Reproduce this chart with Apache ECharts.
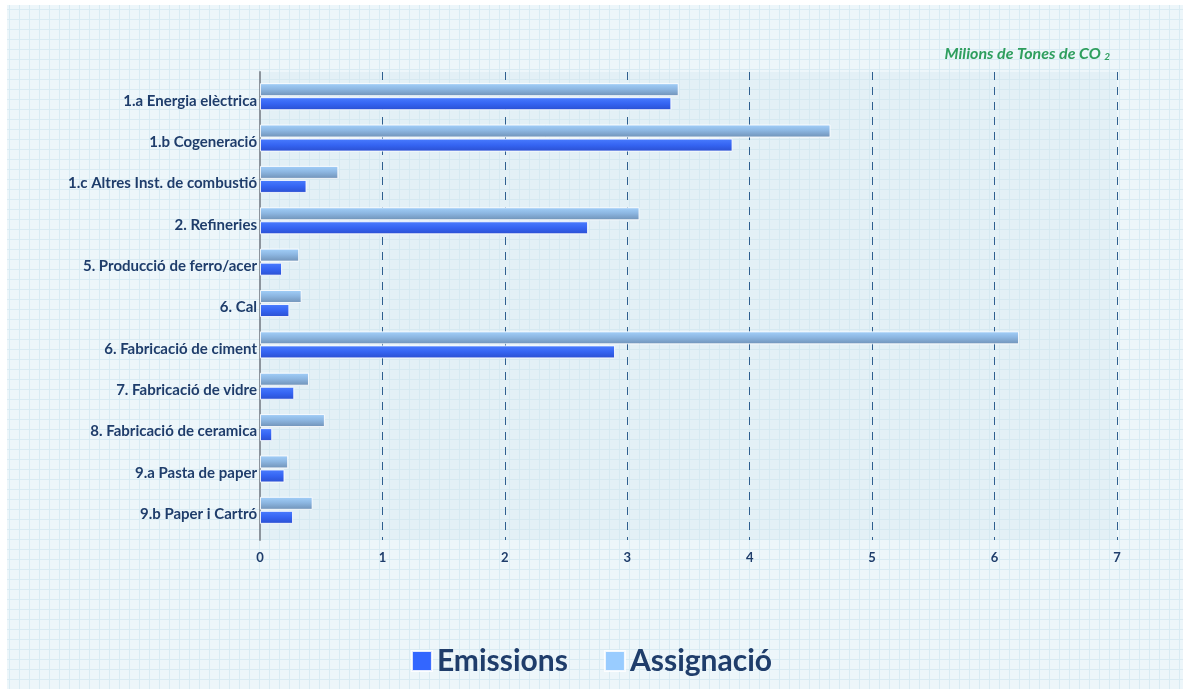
<!DOCTYPE html>
<html>
<head>
<meta charset="utf-8">
<script src="https://cdn.jsdelivr.net/npm/echarts@6/dist/echarts.min.js"></script>
<style>
html,body{margin:0;padding:0;background:#ffffff;}
#chart{width:1183px;height:689px;}
</style>
</head>
<body>
<div id="chart"></div>
<script>
const categories = [
  '1.a Energia elèctrica',
  '1.b Cogeneració',
  '1.c Altres Inst. de combustió',
  '2. Refineries',
  '5. Producció de ferro/acer',
  '6. Cal',
  '6. Fabricació de ciment',
  '7. Fabricació de vidre',
  '8. Fabricació de ceramica',
  '9.a Pasta de paper',
  '9.b Paper i Cartró'
];
const emissions = [3.36, 3.86, 0.38, 2.68, 0.18, 0.24, 2.90, 0.28, 0.10, 0.20, 0.27];
const assignacio = [3.42, 4.66, 0.64, 3.10, 0.32, 0.34, 6.20, 0.40, 0.53, 0.23, 0.43];
const xTicks = [0, 1, 2, 3, 4, 5, 6, 7];

function makePattern(base, line) {
  const c = document.createElement('canvas');
  c.width = 10; c.height = 10;
  const g = c.getContext('2d');
  g.fillStyle = base; g.fillRect(0, 0, 10, 10);
  g.fillStyle = line; g.fillRect(9, 0, 1, 10); g.fillRect(0, 9, 10, 1);
  return { image: c, repeat: 'repeat' };
}

const navy = '#1f3d6b';
const chart = echarts.init(document.getElementById('chart'));
chart.setOption({
  backgroundColor: '#ffffff',
  animation: false,
  graphic: [
    { type: 'rect', z: -10, shape: { x: 7, y: 5, width: 1176, height: 684 }, style: { fill: makePattern('#edf6fa', '#d9ebf3') } },
    { type: 'rect', z: -9, shape: { x: 260, y: 72, width: 857, height: 468 }, style: { fill: makePattern('#e3f0f6', '#d6e9f1') } }
  ],
  title: {
    text: '{a|Milions de Tones de CO }{b|2}',
    right: 68, top: 40,
    textStyle: {
      rich: {
        a: { fontFamily: 'Lato', fontStyle: 'italic', fontWeight: 'bold', fontSize: 16, color: '#2e9e5e' },
        b: { fontFamily: 'Lato', fontStyle: 'italic', fontWeight: 'bold', fontSize: 10, color: '#2e9e5e', padding: [7, 0, 0, 0] }
      }
    }
  },
  legend: {
    bottom: 8,
    left: 'center',
    itemWidth: 20,
    itemHeight: 20,
    itemGap: 36,
    icon: 'rect',
    textStyle: { fontFamily: 'Lato', fontWeight: 'bold', fontSize: 30, color: navy },
    data: [
      { name: 'Emissions', itemStyle: { color: '#3366ff' } },
      { name: 'Assignació', itemStyle: { color: '#99ccff' } }
    ]
  },
  grid: [
    { left: 260, right: 66, top: 76, height: 455, containLabel: false },
    { left: 260, right: 66, top: 72, height: 468, show: false }
  ],
  xAxis: [
    { gridIndex: 0, type: 'value', min: 0, max: 7, interval: 1, show: false },
    {
      gridIndex: 1, type: 'value', min: 0, max: 7, interval: 1,
      axisLine: { show: false }, axisTick: { show: false },
      axisLabel: { margin: 11, fontFamily: 'Lato', fontWeight: 'bold', fontSize: 13, color: navy,
        formatter: v => xTicks.includes(v) ? String(v) : '' },
      splitLine: { show: true, lineStyle: { color: '#2f5f8f', width: 1, type: [8, 7] } }
    }
  ],
  yAxis: [
    {
      gridIndex: 0, type: 'category', data: categories, inverse: true,
      axisLine: { show: false }, axisTick: { show: false },
      axisLabel: { margin: 3, fontFamily: 'Lato', fontWeight: 'bold', fontSize: 15, color: navy, verticalAlign: 'top', lineHeight: 8 }
    },
    {
      gridIndex: 1, type: 'category', data: categories, inverse: true,
      axisLine: { show: true, lineStyle: { color: '#8c949c', width: 2 } },
      axisTick: { show: false }, axisLabel: { show: false }, splitLine: { show: false }
    }
  ],
  series: [
    {
      name: 'Assignació', type: 'bar', xAxisIndex: 0, yAxisIndex: 0,
      data: assignacio, barWidth: 13, barGap: '8%',
      itemStyle: {
        color: new echarts.graphic.LinearGradient(0, 0, 0, 1, [
          { offset: 0, color: '#a3d0fa' },
          { offset: 0.45, color: '#8db7e2' },
          { offset: 1, color: '#6f91b6' }
        ]),
        borderColor: 'rgba(255,255,255,0.85)', borderWidth: 1
      }
    },
    {
      name: 'Emissions', type: 'bar', xAxisIndex: 0, yAxisIndex: 0,
      data: emissions, barWidth: 13, barGap: '8%',
      itemStyle: {
        color: new echarts.graphic.LinearGradient(0, 0, 0, 1, [
          { offset: 0, color: '#4a7dff' },
          { offset: 0.5, color: '#3564f2' },
          { offset: 1, color: '#2a4fd0' }
        ]),
        borderColor: 'rgba(255,255,255,0.85)', borderWidth: 1
      }
    }
  ]
});
</script>
</body>
</html>
